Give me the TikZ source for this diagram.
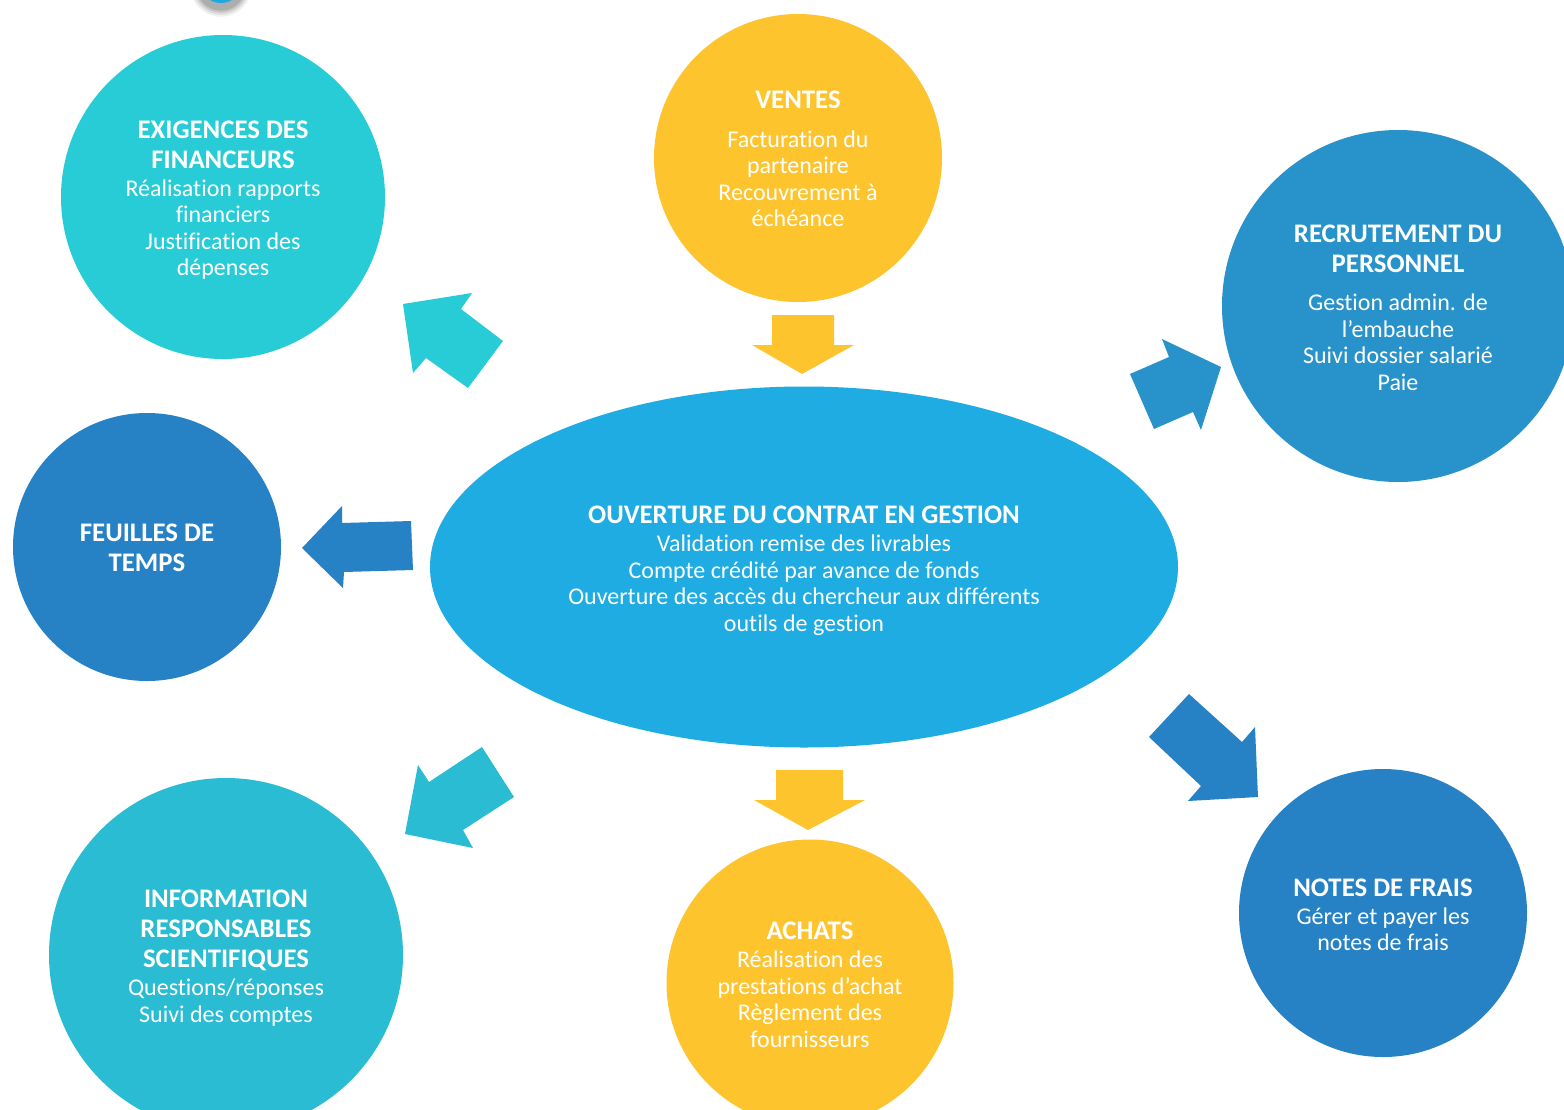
\documentclass[tikz,border=0pt]{standalone}
\usepackage{fontspec}
\setmainfont{Carlito}[Ligatures=NoCommon]
\usetikzlibrary{shapes.geometric}
\definecolor{cyanA}{HTML}{28CCD7}
\definecolor{cyanB}{HTML}{29BCD2}
\definecolor{yel}{HTML}{FEC42E}
\definecolor{blueR}{HTML}{2893CA}
\definecolor{blueD}{HTML}{2782C5}
\definecolor{blueE}{HTML}{1FACE2}
\definecolor{blueT}{HTML}{1FA8E0}
\tikzset{
  bubble/.style={circle, inner sep=0pt},
  mainell/.style={ellipse, inner sep=0pt, fill=blueE},
  txt/.style={inner sep=0pt, text=white, align=center,
    font=\fontsize{24}{26.5}\selectfont}
}
\newcommand{\ttlf}[1]{{\fontsize{26.8}{30}\selectfont\bfseries #1}}
\begin{document}
\begin{tikzpicture}[x=1pt,y=-1pt]
\useasboundingbox (0,0) rectangle (1564,1109);
\clip (0,0) rectangle (1564,1109);
\fill[white] (0,0) rectangle (1564,1109);
% top partial shape with shadow
\foreach \k/\o in {9/0.06,7/0.08,5/0.10,3/0.12}{
  \fill[black,opacity=\o] (221,-14) circle ({21.7+\k});
}
\fill[blueT] (221,-18.7) circle (21.7);

% circles
\node[bubble, fill=cyanA, minimum size=324pt] (exig) at (223,197) {};
\node[txt] (exigt) at ([yshift=-3pt]exig.center)
  {\ttlf{EXIGENCES DES}\\[3.5pt]\ttlf{FINANCEURS}\\[1.5pt]Réalisation rapports\\financiers\\Justification des\\dépenses};
\node[bubble, fill=yel, minimum size=288pt] (ventes) at (798,158) {};
\node[txt] (ventest) at ([yshift=-1pt]ventes.center)
  {\ttlf{VENTES}\\[12.5pt]Facturation du\\partenaire\\Recouvrement à\\échéance};
\node[bubble, fill=blueR, minimum size=352pt] (recru) at (1398,306) {};
\node[txt] (recrut) at ([yshift=-2pt]recru.center)
  {\ttlf{RECRUTEMENT DU}\\[3.5pt]\ttlf{PERSONNEL}\\[11.5pt]Gestion admin. de\\l’embauche\\Suivi dossier salarié\\Paie};
\node[bubble, fill=blueD, minimum size=268pt] (feuil) at (147,547) {};
\node[txt] (feuilt) at ([yshift=-1pt]feuil.center)
  {\ttlf{FEUILLES DE}\\[3pt]\ttlf{TEMPS}};
\node[mainell, minimum width=748pt, minimum height=361pt] (centre) at (804,567) {};
\node[txt] (centret) at ([yshift=-4pt]centre.center)
  {\ttlf{OUVERTURE DU CONTRAT EN GESTION}\\[1.5pt]Validation remise des livrables\\Compte crédité par avance de fonds\\Ouverture des accès du chercheur aux différents\\outils de gestion};
\node[bubble, fill=cyanB, minimum size=354pt] (info) at (226,955) {};
\node[txt] (infot) at ([yshift=-3pt]info.center)
  {\ttlf{INFORMATION}\\[3.5pt]\ttlf{RESPONSABLES}\\[3.5pt]\ttlf{SCIENTIFIQUES}\\[1.5pt]Questions/réponses\\Suivi des comptes};
\node[bubble, fill=yel, minimum size=287pt] (achats) at (810,983) {};
\node[txt] (achatst) at ([yshift=-2pt]achats.center)
  {\ttlf{ACHATS}\\[1.5pt]Réalisation des\\prestations d’achat\\Règlement des\\fournisseurs};
\node[bubble, fill=blueD, minimum size=288pt] (notes) at (1383,913) {};
\node[txt] (notest) at ([yshift=-2pt]notes.center)
  {\ttlf{NOTES DE FRAIS}\\[1.5pt]Gérer et payer les\\notes de frais};

% block arrows
\fill[yel] (772,315) -- (834,315) -- (834,345) -- (854,345) -- (802,374) -- (752,345) -- (772,345) -- cycle;
\fill[yel] (776,770) -- (843,770) -- (843,800) -- (865,800) -- (808,830) -- (754,800) -- (776,800) -- cycle;
\fill[blueD] (411,521) -- (413,570) -- (344,572) -- (343,588) -- (302,548) -- (342,506) -- (342,523) -- cycle;
\fill[cyanA] (403,304) -- (472,293) -- (461,309) -- (503,341) -- (468,388) -- (426,358) -- (413,373) -- cycle;
\fill[blueR] (1130,374) -- (1169,357) -- (1162,339) -- (1221,367) -- (1201,430) -- (1193,412) -- (1154,429) -- cycle;
\fill[blueD] (1189,694) -- (1242,742) -- (1255,727) -- (1258,797) -- (1188,801) -- (1201,786) -- (1149,737) -- cycle;
\fill[cyanB] (482,747) -- (514,797) -- (463,830) -- (473,848) -- (405,834) -- (418,765) -- (429,782) -- cycle;
\end{tikzpicture}
\end{document}
